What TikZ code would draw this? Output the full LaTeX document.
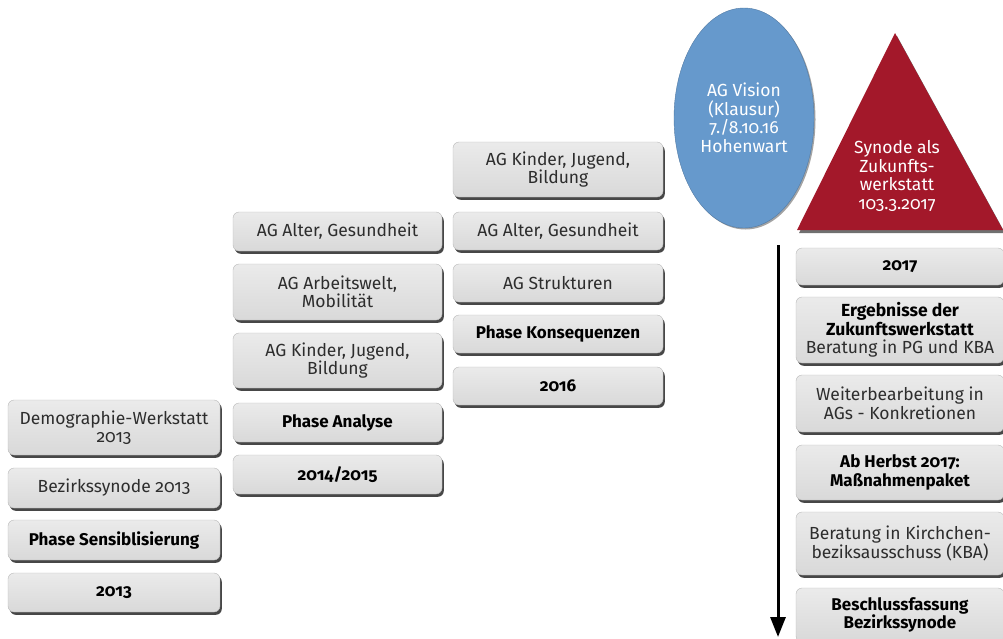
\documentclass[tikz,border=0pt]{standalone}
\usepackage{fontspec}
\setmainfont{Fira Sans}[Numbers=OldStyle]
\usepackage{tikz}
\usetikzlibrary{shapes.geometric, shadows, arrows.meta}

\definecolor{visionblue}{RGB}{102,153,204}
\definecolor{synodered}{RGB}{163,24,42}
\definecolor{boxtext}{RGB}{45,45,45}

\begin{document}
\begin{tikzpicture}[x=1pt, y=-1pt, font=\fontsize{17.5}{18.5}\selectfont]
% Setup the styles for the boxes
\tikzset{box/.style={rectangle,
		rounded corners=6pt,
		minimum width=#1,
		align=center,
		inner sep=1pt,
		draw=gray!55,
		top color=gray!16,
		bottom color=gray!30,
		text=boxtext,
		drop shadow={shadow xshift=1.8pt, shadow yshift=-2.8pt, fill=black!80, opacity=0.9}},
	box/.default=210,
	phase/.style={box, font=\fontsize{17}{18.5}\selectfont\bfseries, text=black}}
\useasboundingbox (0,0) rectangle (1003,638);

% Column 2013
\node[box=212, minimum height=55] at (114,427.5) (demo)   {Demographie-Werkstatt\\2013};
\node[box=212, minimum height=40] at (114,488)   (bsyn)   {Bezirkssynode 2013};
\node[phase, minimum width=212, minimum height=40] at (114,540) (sensi) {Phase Sensiblisierung};
\node[phase, minimum width=212, minimum height=39] at (114,592.5) (y2013) {2013};

% Column 2014/2015
\node[box=209, minimum height=39] at (337.5,231.5) (alter1)  {AG Alter, Gesundheit};
\node[box=209, minimum height=56] at (337.5,292)   (arbeit)  {AG Arbeitswelt,\\Mobilität};
\node[box=209, minimum height=55] at (337.5,360.5) (kinder1) {AG Kinder, Jugend,\\Bildung};
\node[phase, minimum width=209, minimum height=39] at (337.5,422.5) (analyse) {Phase Analyse};
\node[phase, minimum width=209, minimum height=39] at (337.5,474.5) (y2014)   {2014/2015};

% Column 2016
\node[box, minimum height=55] at (558,169.5) (kinder2) {AG Kinder, Jugend,\\Bildung};
\node[box, minimum height=38] at (558,231)   (alter2)  {AG Alter, Gesundheit};
\node[box, minimum height=38] at (558,283)   (strukt)  {AG Strukturen};
\node[phase, minimum width=210, minimum height=38] at (558,334) (konseq) {Phase Konsequenzen};
\node[phase, minimum width=210, minimum height=38] at (558,386) (y2016)  {2016};

% Vision and synod
\node[ellipse, fill=visionblue, draw=visionblue!80!black, text=white,
	minimum width=140, minimum height=220, align=center, inner sep=0pt,
	drop shadow={shadow xshift=1.5pt, shadow yshift=-1.5pt, fill=black!60, opacity=0.6}]
	at (744,118) (vision) {AG Vision\\(Klausur)\\7./8.10.16\\Hohenwart};
\fill[black!70, opacity=0.8] (897,36) -- (1005,233) -- (799,233) -- cycle;
\fill[synodered] (895,33) -- (1003,230) -- (797,230) -- cycle;
\node[text=white, align=center] at (897,176) (synode) {Synode als\\Zukunfts-\\werkstatt\\103.3.2017};

% Column 2017
\node[phase, minimum width=208, minimum height=37] at (900,266.5) (y2017) {2017};
\node[box=208, minimum height=66] at (900,330) (ergeb)
	{\textbf{\color{black}Ergebnisse der}\\\textbf{\color{black}Zukunftswerkstatt}\\Beratung in PG und KBA};
\node[box=208, minimum height=57] at (900,403.5) (weiter)   {Weiterbearbeitung in\\AGs - Konkretionen};
\node[phase, minimum width=208, minimum height=55] at (900,472.5) (herbst) {Ab Herbst 2017:\\Maßnahmenpaket};
\node[box=208, minimum height=63] at (900,543.5) (kba)      {Beratung in Kirchchen-\\beziksausschuss (KBA)};
\node[phase, minimum width=208, minimum height=54] at (900,615) (beschluss) {Beschlussfassung\\Bezirkssynode};

% Time arrow
\coordinate (tstart) at (778,245);
\coordinate (tend)   at (778,637);
\draw[line width=3pt, -{Triangle[length=20pt, width=15pt]}] (tstart) -- (tend);
\end{tikzpicture}
\end{document}
